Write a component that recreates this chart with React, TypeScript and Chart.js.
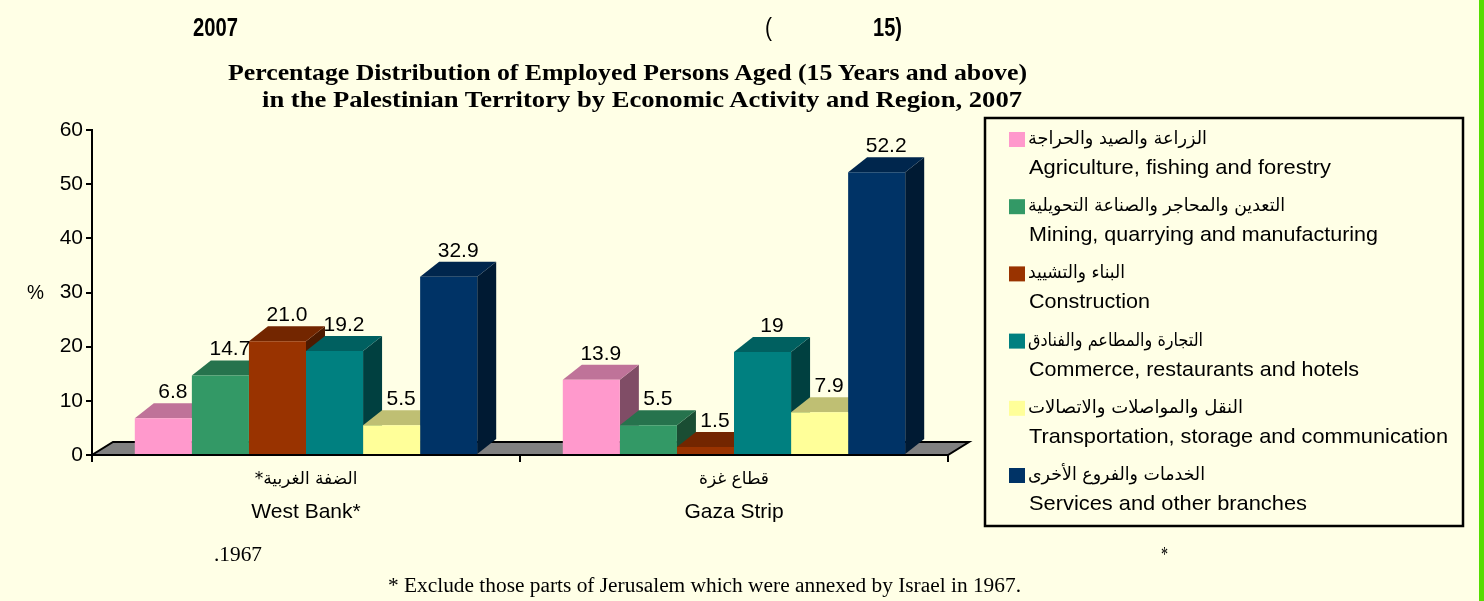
import React, { useEffect, useRef } from 'react';
import { Chart, registerables } from 'chart.js';

Chart.register(...registerables);

// ---------- data ----------
const regionsEn = ['West Bank*', 'Gaza Strip'];
const regionsAr = ['الضفة الغربية*', 'قطاع غزة'];

const activitiesEn = [
  'Agriculture, fishing and forestry',
  'Mining, quarrying and manufacturing',
  'Construction',
  'Commerce, restaurants and hotels',
  'Transportation, storage and communication',
  'Services and other branches',
];
const activitiesAr = [
  'الزراعة والصيد والحراجة',
  'التعدين والمحاجر والصناعة التحويلية',
  'البناء والتشييد',
  'التجارة والمطاعم والفنادق',
  'النقل والمواصلات والاتصالات',
  'الخدمات والفروع الأخرى',
];

const westBank = [6.8, 14.7, 21.0, 19.2, 5.5, 32.9];
const gaza = [13.9, 5.5, 1.5, 19, 7.9, 52.2];
const westBankLabels = ['6.8', '14.7', '21.0', '19.2', '5.5', '32.9'];
const gazaLabels = ['13.9', '5.5', '1.5', '19', '7.9', '52.2'];

const yMin = 0;
const yMax = 60;
const yStep = 10;

const colors = ['#FF99CC', '#339966', '#993300', '#008080', '#FFFF99', '#003366'];

const titleLines = [
  'Percentage Distribution of Employed Persons Aged (15 Years and above)',
  'in the Palestinian Territory by Economic Activity and Region, 2007',
];
const footnote = '* Exclude those parts of Jerusalem which were annexed by Israel in 1967.';

// ---------- styles ----------
const SANS = '"Liberation Sans", Arial, sans-serif';
const SERIF = '"Liberation Serif", "Times New Roman", serif';
const ARABIC = '"DejaVu Sans", sans-serif';
const DX = 19;
const DY = 15;
const FLOOR_DX = 21;
const FLOOR_DY = 13;

function shade(hex: string, f: number) {
  const n = parseInt(hex.slice(1), 16);
  const r = Math.round(((n >> 16) & 255) * f);
  const g = Math.round(((n >> 8) & 255) * f);
  const b = Math.round((n & 255) * f);
  return `rgb(${r},${g},${b})`;
}

const threeD = {
  id: 'threeD',
  beforeDatasetsDraw(chart: any) {
    const { ctx, chartArea: a } = chart;
    ctx.save();
    // floor
    ctx.beginPath();
    ctx.moveTo(a.left, a.bottom);
    ctx.lineTo(a.right, a.bottom);
    ctx.lineTo(a.right + FLOOR_DX, a.bottom - FLOOR_DY);
    ctx.lineTo(a.left + FLOOR_DX, a.bottom - FLOOR_DY);
    ctx.closePath();
    ctx.fillStyle = '#808080';
    ctx.fill();
    ctx.strokeStyle = '#000';
    ctx.lineWidth = 2;
    ctx.stroke();
    // side & top faces
    const nCat = chart.data.labels.length;
    for (let j = 0; j < nCat; j++) {
      for (let i = 0; i < chart.data.datasets.length; i++) {
        const el = chart.getDatasetMeta(i).data[j];
        if (!el) continue;
        const { x, y, width, base } = el.getProps(['x', 'y', 'width', 'base'], true);
        const x0 = x - width / 2;
        const x1 = x + width / 2;
        const c = colors[i];
        ctx.fillStyle = shade(c, 0.5);
        ctx.beginPath();
        ctx.moveTo(x1, base);
        ctx.lineTo(x1, y);
        ctx.lineTo(x1 + DX, y - DY);
        ctx.lineTo(x1 + DX, base - DY);
        ctx.closePath();
        ctx.fill();
        ctx.fillStyle = shade(c, 0.75);
        ctx.beginPath();
        ctx.moveTo(x0, y);
        ctx.lineTo(x1, y);
        ctx.lineTo(x1 + DX, y - DY);
        ctx.lineTo(x0 + DX, y - DY);
        ctx.closePath();
        ctx.fill();
      }
    }
    ctx.restore();
  },
  afterDatasetsDraw(chart: any) {
    const { ctx, chartArea: a } = chart;
    ctx.save();
    // value labels
    ctx.fillStyle = '#000';
    ctx.font = `21px ${SANS}`;
    ctx.textAlign = 'center';
    ctx.textBaseline = 'alphabetic';
    const labelSets = [westBankLabels, gazaLabels];
    for (let i = 0; i < chart.data.datasets.length; i++) {
      const meta = chart.getDatasetMeta(i);
      meta.data.forEach((el: any, j: number) => {
        const { x, y } = el.getProps(['x', 'y'], true);
        ctx.fillText(labelSets[j][i], x + DX / 2, y - DY - 5);
      });
    }
    // category labels
    const xs = chart.scales.x;
    regionsEn.forEach((lab, j) => {
      const cx = xs.getPixelForValue(j);
      ctx.font = `17px ${ARABIC}`;
      ctx.direction = 'rtl';
      ctx.fillText(regionsAr[j], cx, a.bottom + 29);
      ctx.direction = 'ltr';
      ctx.font = `21px ${SANS}`;
      ctx.fillText(lab, cx, a.bottom + 63);
    });
    ctx.restore();
  },
};

type TProps = {
  x: number;
  y: number;
  w: number;
  size: number;
  family: string;
  weight?: string;
  children: string;
};
function T({ x, y, w, size, family, weight, children }: TProps) {
  return (
    <text
      x={x}
      y={y}
      textLength={w}
      lengthAdjust="spacingAndGlyphs"
      fill="#000"
      style={{ fontFamily: family, fontSize: size, fontWeight: weight || 'normal' }}
    >
      {children}
    </text>
  );
}

const legendArWidths = [179, 257, 97, 175, 215, 177];
const legendEnWidths = [302, 349, 121, 330, 419, 278];

export default function App() {
  const ref = useRef<HTMLCanvasElement>(null);

  useEffect(() => {
    const chart = new Chart(ref.current as HTMLCanvasElement, {
      type: 'bar',
      data: {
        labels: regionsEn,
        datasets: activitiesEn.map((name, i) => ({
          label: name,
          data: [westBank[i], gaza[i]],
          backgroundColor: colors[i],
          borderWidth: 0,
          barPercentage: 1,
          categoryPercentage: 0.8,
        })),
      },
      options: {
        responsive: false,
        animation: false,
        events: [],
        layout: { padding: { top: 130, left: 0, right: 36, bottom: 45 } },
        plugins: { legend: { display: false }, tooltip: { enabled: false }, title: { display: false } },
        scales: {
          x: {
            z: 1,
            afterFit: (s: any) => {
              s.height = 40;
            },
            ticks: { display: false },
            grid: {
              offset: true,
              drawOnChartArea: false,
              drawTicks: true,
              tickLength: 7,
              color: '#000',
              lineWidth: 2,
            },
            border: { color: '#000', width: 2 },
          },
          y: {
            min: yMin,
            max: yMax,
            afterFit: (s: any) => {
              s.width = 92;
            },
            ticks: {
              stepSize: yStep,
              color: '#000',
              padding: 3,
              font: { family: SANS, size: 21 },
            },
            grid: {
              drawOnChartArea: false,
              drawTicks: true,
              tickLength: 6,
              color: '#000',
              lineWidth: 2,
            },
            border: { color: '#000', width: 2 },
          },
        },
      },
      plugins: [threeD],
    } as any);
    return () => chart.destroy();
  }, []);

  return (
    <div
      style={{
        position: 'fixed',
        left: 0,
        top: 0,
        width: 1484,
        height: 601,
        background: '#FFFFE6',
        overflow: 'hidden',
      }}
    >
      <canvas
        ref={ref}
        width={984}
        height={540}
        style={{ position: 'absolute', left: 0, top: 0, width: 984, height: 540 }}
      />
      <svg
        width={1484}
        height={601}
        style={{ position: 'absolute', left: 0, top: 0, pointerEvents: 'none' }}
      >
        <rect x={1479} y={0} width={5} height={601} fill="#55DD00" />
        <T x={193} y={36} w={45} size={25} family={SANS} weight="bold">2007</T>
        <T x={765} y={36} w={7} size={25} family={SANS}>(</T>
        <T x={873} y={36} w={29} size={25} family={SANS} weight="bold">15)</T>
        <T x={228} y={80} w={799} size={24} family={SERIF} weight="bold">{titleLines[0]}</T>
        <T x={262} y={107} w={760} size={24} family={SERIF} weight="bold">{titleLines[1]}</T>
        <T x={27} y={299} w={17} size={21} family={SANS}>%</T>

        <rect x={985} y={118} width={478} height={408} fill="none" stroke="#000" strokeWidth={2.5} />
        {activitiesEn.map((en, i) => {
          const off = i * 67.2;
          return (
            <g key={en}>
              <rect x={1009} y={132 + off} width={16} height={15} fill={colors[i]} />
              <T x={1028} y={144 + off} w={legendArWidths[i]} size={18} family={ARABIC}>
                {activitiesAr[i]}
              </T>
              <T x={1029} y={174 + off} w={legendEnWidths[i]} size={21} family={SANS}>
                {en}
              </T>
            </g>
          );
        })}

        <T x={214} y={561} w={48} size={20} family={SERIF}>.1967</T>
        <T x={1161} y={561} w={7} size={20} family={SERIF}>*</T>
        <T x={388} y={592} w={633} size={20} family={SERIF}>{footnote}</T>
      </svg>
    </div>
  );
}
